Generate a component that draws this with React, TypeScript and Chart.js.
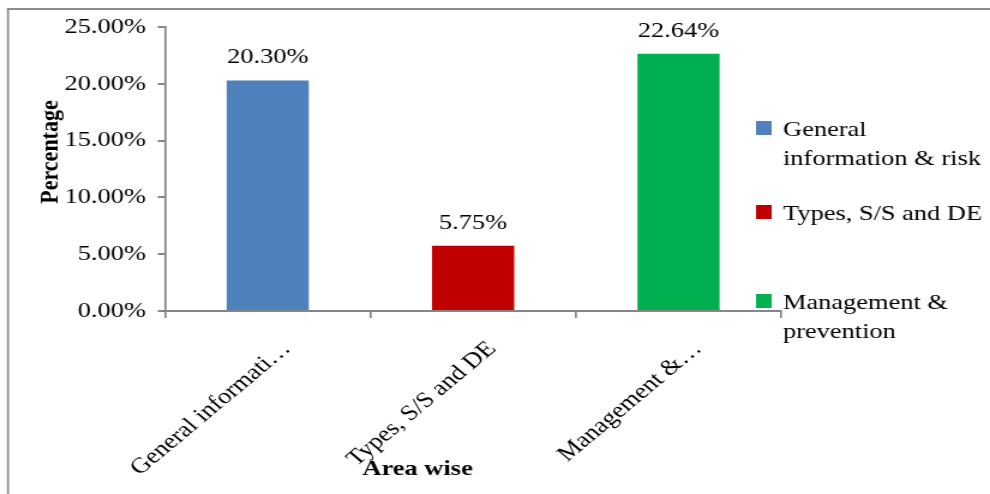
import React, { useEffect, useRef } from "react";
import { Chart, registerables } from "chart.js";

Chart.register(...registerables);

// ---- data ----
const categories = ["General informati…", "Types, S/S and DE", "Management &…"];
const legendLabels = [["General", "information & risk"], ["Types, S/S and DE"], ["Management &", "prevention"]];
const values = [20.3, 5.75, 22.64];
const yMin = 0;
const yMax = 25;
const yStep = 5;
const yAxisTitle = "Percentage";
const xAxisTitle = "Area wise";

// ---- style ----
const barColors = ["#4F81BD", "#C00000", "#00B050"];
const AXIS = "#868686";
const FONT = "'Liberation Serif', 'Times New Roman', serif";
const SX = 1.2; // horizontal stretch of the picture
const W = 990;
const H = 494;
const IW = Math.round(W / SX);

const framePlugin = {
  id: "frame",
  beforeDraw(chart: any) {
    const ctx = chart.ctx;
    ctx.save();
    ctx.fillStyle = "#ffffff";
    ctx.fillRect(0, 0, chart.width, chart.height);
    ctx.fillStyle = "#8a8a8a";
    ctx.fillRect(5.8, 8, chart.width, 2);
    ctx.fillRect(5.8, 8, 1.7, chart.height);
    ctx.restore();
  },
};

const valueLabelPlugin = {
  id: "valueLabels",
  afterDatasetsDraw(chart: any) {
    const ctx = chart.ctx;
    const meta = chart.getDatasetMeta(0);
    ctx.save();
    ctx.font = `22px ${FONT}`;
    ctx.fillStyle = "#000";
    ctx.textAlign = "center";
    ctx.textBaseline = "alphabetic";
    meta.data.forEach((bar: any, i: number) => {
      const v = chart.data.datasets[0].data[i] as number;
      ctx.fillText(v.toFixed(2) + "%", bar.x, bar.y - 17);
    });
    ctx.restore();
  },
};

const titlesPlugin = {
  id: "axisTitles",
  afterDraw(chart: any) {
    const ctx = chart.ctx;
    ctx.save();
    ctx.font = `bold 22px ${FONT}`;
    ctx.fillStyle = "#000";
    ctx.textAlign = "center";
    ctx.textBaseline = "middle";
    ctx.translate(42, 152);
    ctx.rotate(-Math.PI / 2);
    ctx.fillText(yAxisTitle, 0, 0);
    ctx.restore();

    ctx.save();
    ctx.font = `bold 22px ${FONT}`;
    ctx.fillStyle = "#000";
    ctx.textAlign = "center";
    ctx.textBaseline = "alphabetic";
    ctx.fillText(xAxisTitle, 348, 475);
    ctx.restore();
  },
};

const legendPlugin = {
  id: "sideLegend",
  afterDraw(chart: any) {
    const ctx = chart.ctx;
    const baselines = [136, 220, 309];
    const lineH = 28.5;
    const x0 = chart.chartArea.right - 21;
    ctx.save();
    ctx.font = `22px ${FONT}`;
    ctx.textAlign = "left";
    ctx.textBaseline = "alphabetic";
    legendLabels.forEach((lines, i) => {
      const b = baselines[i];
      ctx.fillStyle = barColors[i];
      ctx.fillRect(x0, b - 15, 13, 14);
      ctx.fillStyle = "#000";
      lines.forEach((t, j) => ctx.fillText(t, x0 + 22.5, b + j * lineH));
    });
    ctx.restore();
  },
};

export default function App() {
  const ref = useRef<HTMLCanvasElement | null>(null);

  useEffect(() => {
    const canvas = ref.current;
    if (!canvas) return;
    const chart = new Chart(canvas, {
      type: "bar",
      data: {
        labels: categories,
        datasets: [
          {
            data: values,
            backgroundColor: barColors,
            borderWidth: 0,
            categoryPercentage: 1,
            barPercentage: 0.4,
          },
        ],
      },
      options: {
        animation: false,
        responsive: false,
        devicePixelRatio: 1,
        layout: { padding: { top: 27, right: IW - 651, left: 0, bottom: 0 } },
        plugins: { legend: { display: false }, tooltip: { enabled: false } },
        scales: {
          x: {
            offset: true,
            grid: {
              display: true,
              offset: true,
              drawOnChartArea: false,
              drawTicks: true,
              tickLength: 7,
              color: AXIS,
              lineWidth: 1.7,
            },
            border: { display: true, color: AXIS, width: 2 },
            ticks: {
              autoSkip: false,
              minRotation: 45,
              maxRotation: 45,
              padding: 18,
              labelOffset: 16,
              color: "#000",
              font: { family: FONT, size: 22 },
            },
            afterFit: (s: any) => {
              s.height = H - 311;
            },
          },
          y: {
            min: yMin,
            max: yMax,
            grid: {
              display: true,
              drawOnChartArea: false,
              drawTicks: true,
              tickLength: 6,
              color: AXIS,
              lineWidth: 2,
            },
            border: { display: true, color: AXIS, width: 1.7 },
            ticks: {
              stepSize: yStep,
              padding: 10,
              color: "#000",
              font: { family: FONT, size: 22 },
              callback: (v: any) => Number(v).toFixed(2) + "%",
            },
            afterFit: (s: any) => {
              s.width = 137.5;
            },
          },
        },
      },
      plugins: [framePlugin, valueLabelPlugin, titlesPlugin, legendPlugin],
    });
    return () => chart.destroy();
  }, []);

  return (
    <div style={{ position: "fixed", left: 0, top: 0, width: W, height: H, background: "#fff" }}>
      <canvas
        ref={ref}
        width={IW}
        height={H}
        style={{ width: W + "px", height: H + "px", display: "block" }}
      />
    </div>
  );
}
